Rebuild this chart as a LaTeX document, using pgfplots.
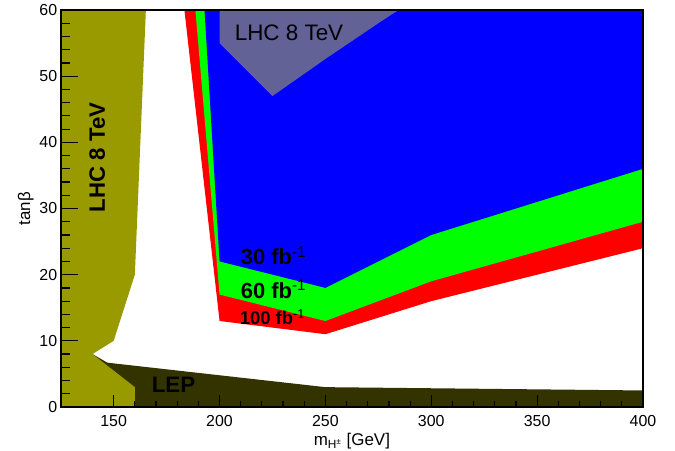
\documentclass[border=0pt]{standalone}
\usepackage{fontspec}
\setmainfont{Liberation Sans}
\usepackage{pgfplots}
\pgfplotsset{compat=1.18}
\definecolor{olv}{RGB}{153,153,0}
\definecolor{lep}{RGB}{51,51,0}
\definecolor{hatch}{RGB}{98,98,150}
\begin{document}
\begin{tikzpicture}
\begin{axis}[
  at={(0,0)}, anchor=south west,
  scale only axis, width=582.25bp, height=397bp,
  xmin=125, xmax=400, ymin=0, ymax=60,
  axis on top,
  tick pos=left,
  tick align=inside,
  xtick={150,200,...,400}, minor x tick num=4,
  ytick={0,10,...,60}, minor y tick num=4,
  major tick length=12bp, minor tick length=6bp,
  ytick style={/pgfplots/major tick length=17bp,/pgfplots/minor tick length=9bp},
  tick style={black, line width=1.2bp},
  axis line style={black, line width=1.6bp},
  /pgf/number format/assume math mode=true,
  xticklabel style={font=\fontsize{16}{16}\selectfont, yshift=-5bp},
  yticklabel style={font=\fontsize{16}{16}\selectfont},
  xlabel={m\textsubscript{H\textsuperscript{±}} [GeV]},
  ylabel={tanβ},
  xlabel style={font=\fontsize{17}{17}\selectfont, at={(axis description cs:0.5,0)}, anchor=center, yshift=-34bp},
  ylabel style={font=\fontsize{17}{17}\selectfont, at={([xshift=-35bp]axis description cs:0,0.5)}, anchor=center},
]
% LEP excluded region
\addplot[fill=lep, draw=none] coordinates {(125,0) (125,8) (140,8) (147,6.7) (250,3.0) (400,2.5) (400,0)} -- cycle;
% LHC 8 TeV (left)
\addplot[fill=olv, draw=none] coordinates {(125,0) (125,60) (165.2,60) (160,20) (150,10) (140,8) (160,3) (160,0)} -- cycle;
% 100 fb^-1
\addplot[fill=red, draw=none] coordinates {(183.4,60) (200,13) (250,11) (300,16) (400,24) (400,60)} -- cycle;
% 60 fb^-1
\addplot[fill=green, draw=none] coordinates {(188.6,60) (200,17) (250,13) (300,19) (400,28) (400,60)} -- cycle;
% 30 fb^-1
\addplot[fill=blue, draw=none] coordinates {(192.9,60) (200,22) (250,18) (300,26) (400,36) (400,60)} -- cycle;
% LHC 8 TeV (top, hatched)
\addplot[fill=hatch, draw=none] coordinates {(200,60) (200,55) (225,47) (250,52.6) (275,58) (284.5,60)} -- cycle;

\node[rotate=90, font=\bfseries\fontsize{22.3}{22}\selectfont] at (axis cs:142.2,37.7) {LHC 8 TeV};
\node[font=\fontsize{22.5}{22}\selectfont] at (axis cs:232.8,56.5) {LHC 8 TeV};
\node[font=\bfseries\fontsize{22.5}{22}\selectfont] at (axis cs:178.3,3.3) {LEP};
\node[anchor=base west, inner sep=0pt, font=\bfseries\fontsize{22}{22}\selectfont] at (axis cs:210,21.5) {30 fb\textsuperscript{\normalfont -1}};
\node[anchor=base west, inner sep=0pt, font=\bfseries\fontsize{22}{22}\selectfont] at (axis cs:210,16.4) {60 fb\textsuperscript{\normalfont -1}};
\node[anchor=base west, inner sep=0pt, font=\bfseries\fontsize{18.5}{18}\selectfont] at (axis cs:209.5,12.4) {100 fb\textsuperscript{\normalfont -1}};
\end{axis}
\pgfresetboundingbox
\useasboundingbox (-60.75bp,-44bp) rectangle (614.25bp,407bp);
\end{tikzpicture}
\end{document}
